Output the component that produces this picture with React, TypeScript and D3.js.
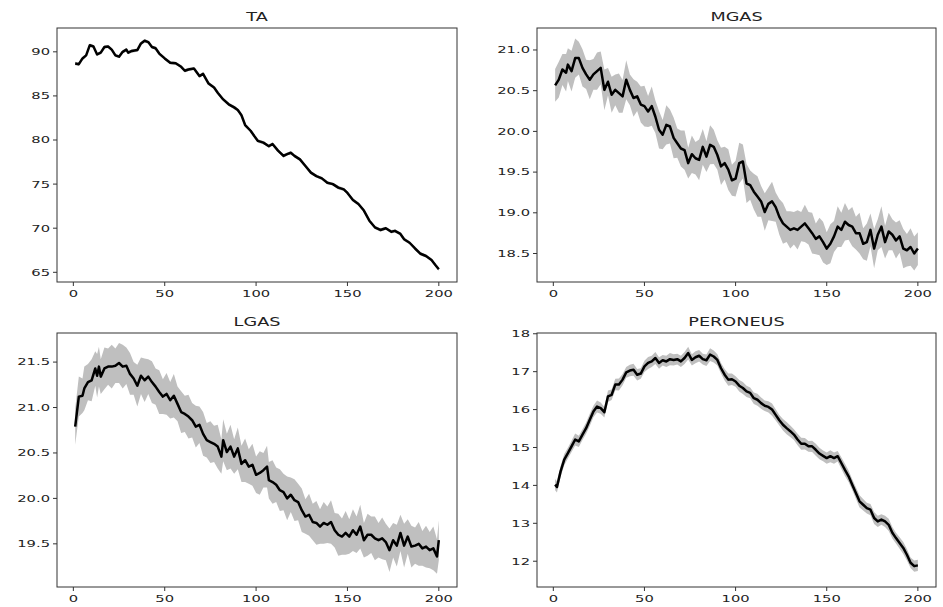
import React from "react";
import * as d3 from "d3";

// Each row: [sample, mean, half-width of the shaded band]
const TA: [number, number, number][] = [
  [1, 88.68, 0.2], [3, 88.6, 0.18], [5, 89.25, 0.2], [7, 89.6, 0.17], [9, 90.75, 0.2],
  [11, 90.6, 0.18], [13, 89.7, 0.16], [15, 89.9, 0.19], [17, 90.55, 0.2], [19, 90.6, 0.17],
  [21, 90.25, 0.18], [23, 89.6, 0.2], [25, 89.45, 0.16], [27, 90.0, 0.18], [29, 90.25, 0.19],
  [30, 89.9, 0.17], [32, 90.1, 0.2], [35, 90.2, 0.18], [37, 90.95, 0.2], [39, 91.25, 0.19],
  [41, 91.1, 0.18], [43, 90.55, 0.17], [45, 90.4, 0.2], [47, 89.8, 0.18], [50, 89.25, 0.16],
  [53, 88.75, 0.19], [56, 88.7, 0.18], [59, 88.3, 0.17], [61, 87.85, 0.2], [63, 88.0, 0.18],
  [66, 88.1, 0.16], [69, 87.25, 0.19], [71, 87.5, 0.18], [74, 86.4, 0.2], [77, 85.95, 0.17],
  [79, 85.35, 0.18], [82, 84.6, 0.19], [85, 84.05, 0.17], [88, 83.7, 0.2], [90, 83.4, 0.18],
  [92, 82.8, 0.16], [94, 81.7, 0.19], [97, 81.05, 0.18], [99, 80.45, 0.17], [101, 79.9, 0.2],
  [104, 79.7, 0.18], [107, 79.3, 0.16], [109, 79.55, 0.19], [112, 78.8, 0.18], [115, 78.2, 0.2],
  [117, 78.4, 0.17], [119, 78.55, 0.18], [121, 78.2, 0.19], [124, 77.8, 0.17], [127, 77.05, 0.2],
  [130, 76.3, 0.18], [133, 75.9, 0.16], [136, 75.65, 0.19], [139, 75.15, 0.18], [142, 75.0, 0.17],
  [145, 74.6, 0.2], [148, 74.4, 0.18], [150, 74.0, 0.16], [153, 73.2, 0.19], [156, 72.75, 0.18],
  [159, 72.0, 0.2], [162, 70.85, 0.17], [165, 70.1, 0.18], [168, 69.8, 0.19], [171, 70.0, 0.17],
  [174, 69.6, 0.2], [176, 69.7, 0.18], [179, 69.35, 0.16], [181, 68.75, 0.19], [184, 68.35, 0.18],
  [187, 67.7, 0.17], [190, 67.1, 0.2], [193, 66.85, 0.18], [196, 66.4, 0.16], [198, 65.85, 0.19],
  [200, 65.35, 0.2],
];

const MGAS: [number, number, number][] = [
  [1, 20.565, 0.2], [3, 20.635, 0.22], [5, 20.76, 0.19], [7, 20.72, 0.23], [8, 20.82, 0.2],
  [10, 20.74, 0.25], [12, 20.9, 0.24], [14, 20.9, 0.2], [16, 20.78, 0.23], [18, 20.7, 0.18],
  [20, 20.635, 0.24], [22, 20.7, 0.19], [24, 20.74, 0.23], [26, 20.78, 0.2], [28, 20.51, 0.25],
  [30, 20.61, 0.17], [32, 20.45, 0.22], [34, 20.51, 0.19], [36, 20.47, 0.24], [38, 20.43, 0.2],
  [40, 20.635, 0.24], [42, 20.51, 0.19], [44, 20.41, 0.23], [46, 20.43, 0.18], [48, 20.33, 0.22],
  [50, 20.31, 0.25], [52, 20.245, 0.19], [54, 20.31, 0.24], [56, 20.18, 0.2], [58, 20.02, 0.23],
  [60, 19.96, 0.18], [62, 20.08, 0.24], [64, 20.06, 0.21], [66, 19.92, 0.25], [68, 19.855, 0.18],
  [70, 19.79, 0.22], [72, 19.77, 0.24], [74, 19.61, 0.19], [76, 19.72, 0.23], [78, 19.67, 0.2],
  [80, 19.65, 0.25], [82, 19.81, 0.22], [84, 19.69, 0.19], [86, 19.835, 0.24], [88, 19.81, 0.21],
  [90, 19.71, 0.18], [92, 19.57, 0.23], [94, 19.61, 0.2], [96, 19.53, 0.25], [98, 19.4, 0.19],
  [100, 19.42, 0.22], [102, 19.61, 0.25], [104, 19.63, 0.21], [106, 19.36, 0.24], [108, 19.34, 0.18],
  [110, 19.26, 0.22], [112, 19.2, 0.25], [114, 19.14, 0.19], [116, 19.01, 0.23], [118, 19.11, 0.2],
  [120, 19.14, 0.24], [122, 19.07, 0.18], [124, 18.95, 0.22], [126, 18.87, 0.25], [128, 18.83, 0.19],
  [130, 18.79, 0.23], [132, 18.81, 0.2], [134, 18.79, 0.24], [136, 18.83, 0.18], [138, 18.87, 0.23],
  [140, 18.81, 0.2], [142, 18.75, 0.25], [144, 18.68, 0.19], [146, 18.71, 0.23], [148, 18.64, 0.25],
  [150, 18.56, 0.2], [152, 18.62, 0.24], [154, 18.71, 0.19], [156, 18.83, 0.25], [158, 18.79, 0.21],
  [160, 18.89, 0.23], [162, 18.85, 0.18], [164, 18.83, 0.24], [166, 18.75, 0.2], [168, 18.75, 0.25],
  [170, 18.62, 0.19], [172, 18.64, 0.23], [174, 18.79, 0.2], [176, 18.56, 0.24], [178, 18.73, 0.19],
  [180, 18.83, 0.25], [182, 18.64, 0.2], [184, 18.77, 0.23], [186, 18.73, 0.19], [188, 18.66, 0.22],
  [190, 18.71, 0.2], [192, 18.56, 0.24], [194, 18.54, 0.2], [196, 18.58, 0.23], [198, 18.5, 0.21],
  [200, 18.56, 0.2],
];

const LGAS: [number, number, number][] = [
  [1, 20.79, 0.2], [3, 21.12, 0.22], [5, 21.13, 0.19], [6, 21.21, 0.24], [8, 21.28, 0.2],
  [10, 21.3, 0.23], [12, 21.43, 0.19], [13, 21.35, 0.24], [14, 21.45, 0.22], [15, 21.34, 0.19],
  [17, 21.43, 0.23], [19, 21.45, 0.2], [21, 21.45, 0.24], [23, 21.46, 0.19], [25, 21.49, 0.22],
  [27, 21.45, 0.24], [29, 21.46, 0.2], [31, 21.37, 0.23], [33, 21.32, 0.18], [35, 21.24, 0.23],
  [37, 21.35, 0.2], [39, 21.3, 0.24], [41, 21.34, 0.19], [43, 21.28, 0.23], [45, 21.23, 0.2],
  [47, 21.17, 0.24], [49, 21.12, 0.19], [51, 21.15, 0.23], [53, 21.08, 0.2], [55, 21.13, 0.24],
  [57, 21.04, 0.19], [59, 20.95, 0.23], [61, 20.93, 0.2], [63, 20.9, 0.24], [65, 20.86, 0.19],
  [67, 20.79, 0.23], [69, 20.81, 0.2], [71, 20.71, 0.24], [73, 20.64, 0.19], [75, 20.62, 0.23],
  [77, 20.6, 0.2], [79, 20.57, 0.24], [81, 20.46, 0.19], [82, 20.64, 0.23], [84, 20.51, 0.2],
  [86, 20.57, 0.24], [88, 20.46, 0.19], [90, 20.55, 0.23], [92, 20.38, 0.2], [94, 20.42, 0.24],
  [96, 20.35, 0.19], [98, 20.37, 0.23], [100, 20.26, 0.2], [102, 20.28, 0.24], [104, 20.31, 0.19],
  [106, 20.35, 0.23], [107, 20.2, 0.2], [109, 20.18, 0.24], [111, 20.15, 0.19], [113, 20.09, 0.23],
  [115, 20.07, 0.2], [117, 20.0, 0.24], [119, 20.04, 0.19], [121, 19.98, 0.23], [123, 19.96, 0.2],
  [125, 19.87, 0.24], [127, 19.8, 0.19], [129, 19.82, 0.23], [131, 19.74, 0.2], [133, 19.73, 0.24],
  [135, 19.69, 0.19], [137, 19.73, 0.23], [139, 19.71, 0.2], [141, 19.74, 0.24], [143, 19.65, 0.19],
  [145, 19.6, 0.23], [147, 19.58, 0.2], [149, 19.62, 0.24], [151, 19.58, 0.19], [153, 19.65, 0.23],
  [155, 19.6, 0.2], [157, 19.69, 0.24], [159, 19.54, 0.19], [161, 19.6, 0.23], [163, 19.6, 0.2],
  [165, 19.56, 0.24], [167, 19.54, 0.19], [169, 19.56, 0.23], [171, 19.52, 0.2], [173, 19.43, 0.24],
  [175, 19.54, 0.19], [177, 19.48, 0.23], [179, 19.62, 0.2], [181, 19.48, 0.24], [183, 19.58, 0.19],
  [185, 19.47, 0.23], [187, 19.48, 0.2], [189, 19.5, 0.24], [191, 19.45, 0.19], [193, 19.47, 0.23],
  [195, 19.43, 0.2], [197, 19.45, 0.24], [199, 19.36, 0.19], [200, 19.54, 0.22],
];

const PERONEUS: [number, number, number][] = [
  [1, 14.02, 0.15], [2, 13.96, 0.15], [4, 14.37, 0.14], [6, 14.68, 0.15], [8, 14.85, 0.14],
  [10, 15.03, 0.15], [12, 15.21, 0.16], [14, 15.16, 0.15], [16, 15.34, 0.14], [18, 15.51, 0.15],
  [20, 15.73, 0.16], [22, 15.95, 0.15], [24, 16.08, 0.16], [26, 16.04, 0.15], [28, 15.93, 0.14],
  [30, 16.35, 0.15], [32, 16.39, 0.14], [34, 16.66, 0.15], [36, 16.66, 0.16], [38, 16.79, 0.15],
  [40, 16.98, 0.14], [42, 17.03, 0.15], [44, 17.05, 0.16], [46, 16.92, 0.15], [48, 16.95, 0.14],
  [50, 17.14, 0.15], [52, 17.23, 0.16], [54, 17.27, 0.15], [56, 17.36, 0.16], [58, 17.23, 0.15],
  [60, 17.3, 0.14], [62, 17.27, 0.15], [64, 17.33, 0.16], [66, 17.31, 0.15], [68, 17.33, 0.14],
  [70, 17.27, 0.15], [72, 17.36, 0.16], [74, 17.49, 0.17], [76, 17.31, 0.15], [78, 17.38, 0.16],
  [80, 17.42, 0.15], [82, 17.33, 0.14], [84, 17.3, 0.15], [86, 17.45, 0.17], [88, 17.4, 0.16],
  [90, 17.31, 0.15], [92, 17.09, 0.14], [94, 16.92, 0.15], [96, 16.79, 0.16], [98, 16.8, 0.15],
  [100, 16.74, 0.14], [102, 16.63, 0.15], [104, 16.57, 0.16], [106, 16.48, 0.15], [108, 16.44, 0.14],
  [110, 16.3, 0.15], [112, 16.26, 0.16], [114, 16.17, 0.15], [116, 16.1, 0.14], [118, 16.07, 0.15],
  [120, 16.0, 0.16], [122, 15.86, 0.15], [124, 15.72, 0.14], [126, 15.6, 0.15], [128, 15.51, 0.16],
  [130, 15.43, 0.15], [132, 15.34, 0.14], [134, 15.21, 0.15], [136, 15.1, 0.16], [138, 15.1, 0.15],
  [140, 15.03, 0.14], [142, 15.03, 0.15], [144, 14.94, 0.16], [146, 14.84, 0.15], [148, 14.78, 0.14],
  [150, 14.72, 0.15], [152, 14.77, 0.16], [154, 14.72, 0.15], [156, 14.77, 0.14], [158, 14.59, 0.15],
  [160, 14.41, 0.16], [162, 14.24, 0.15], [164, 14.02, 0.14], [166, 13.8, 0.15], [168, 13.58, 0.16],
  [170, 13.49, 0.15], [172, 13.4, 0.14], [174, 13.36, 0.15], [176, 13.14, 0.16], [178, 13.05, 0.15],
  [180, 13.1, 0.14], [182, 13.05, 0.15], [184, 12.96, 0.16], [186, 12.75, 0.15], [188, 12.61, 0.14],
  [190, 12.48, 0.15], [192, 12.35, 0.16], [194, 12.17, 0.15], [196, 11.96, 0.14], [198, 11.87, 0.15],
  [200, 11.89, 0.15],
];

const TITLES = ["TA", "MGAS", "LGAS", "PERONEUS"];
const X_TICKS = [0, 50, 100, 150, 200];
const X_LIMITS: [number, number] = [-8.95, 209.95];
const Y_LIMITS: [number, number][] = [
  [63.9, 92.7],
  [18.15, 21.27],
  [19.025, 21.82],
  [11.32, 18.02],
];
const Y_TICKS = [
  [65, 70, 75, 80, 85, 90],
  [18.5, 19.0, 19.5, 20.0, 20.5, 21.0],
  [19.5, 20.0, 20.5, 21.0, 21.5],
  [12, 13, 14, 15, 16, 17, 18],
];
const Y_FORMATS = [d3.format("d"), d3.format(".1f"), d3.format(".1f"), d3.format("d")];
const SERIES = [TA, MGAS, LGAS, PERONEUS];

const W = 943;
const H = 607;
const BOXES = [
  { x: 57, y: 28, w: 400, h: 254 },
  { x: 537, y: 28, w: 399, h: 254 },
  { x: 57, y: 333, w: 400, h: 254 },
  { x: 537, y: 333, w: 399, h: 254 },
];

const FONT = "DejaVu Sans, sans-serif";
const STRETCH = 1.55;
const TEXT_COLOR = "#222";

function Panel({ idx }: { idx: number }) {
  const box = BOXES[idx];
  const data = SERIES[idx];
  const x = d3.scaleLinear().domain(X_LIMITS).range([box.x, box.x + box.w]);
  const y = d3.scaleLinear().domain(Y_LIMITS[idx]).range([box.y + box.h, box.y]);
  const area = d3
    .area<[number, number, number]>()
    .x((d) => x(d[0]))
    .y0((d) => y(d[1] - d[2]))
    .y1((d) => y(d[1] + d[2]));
  const line = d3
    .line<[number, number, number]>()
    .x((d) => x(d[0]))
    .y((d) => y(d[1]));
  const fmt = Y_FORMATS[idx];
  const clipId = `clip-${idx}`;
  return (
    <g>
      <defs>
        <clipPath id={clipId}>
          <rect x={box.x} y={box.y} width={box.w} height={box.h} />
        </clipPath>
      </defs>
      <g clipPath={`url(#${clipId})`}>
        <path d={area(data) ?? ""} fill="#bfbfbf" stroke="none" />
        <path
          d={line(data) ?? ""}
          fill="none"
          stroke="#000"
          strokeWidth={2.5}
          strokeLinejoin="round"
        />
      </g>
      <rect
        x={box.x}
        y={box.y}
        width={box.w}
        height={box.h}
        fill="none"
        stroke="#333"
        strokeWidth={1}
      />
      {X_TICKS.map((t) => (
        <g key={`x${t}`}>
          <line
            x1={x(t)}
            x2={x(t)}
            y1={box.y + box.h}
            y2={box.y + box.h + 4}
            stroke="#333"
          />
          <text
            transform={`translate(${x(t)},${box.y + box.h + 15}) scale(${STRETCH},1)`}
            textAnchor="middle"
            fontFamily={FONT}
            fontSize={9.5}
            fill={TEXT_COLOR}
          >
            {t}
          </text>
        </g>
      ))}
      {Y_TICKS[idx].map((t) => (
        <g key={`y${t}`}>
          <line x1={box.x - 4} x2={box.x} y1={y(t)} y2={y(t)} stroke="#333" />
          <text
            transform={`translate(${box.x - 7},${y(t) + 3.4}) scale(${STRETCH},1)`}
            textAnchor="end"
            fontFamily={FONT}
            fontSize={9.5}
            fill={TEXT_COLOR}
          >
            {fmt(t)}
          </text>
        </g>
      ))}
      <text
        transform={`translate(${box.x + box.w / 2},${box.y - 7}) scale(${STRETCH},1)`}
        textAnchor="middle"
        fontFamily={FONT}
        fontSize={11.4}
        fill={TEXT_COLOR}
      >
        {TITLES[idx]}
      </text>
    </g>
  );
}

export default function App() {
  return (
    <svg
      width={W}
      height={H}
      viewBox={`0 0 ${W} ${H}`}
      style={{ position: "absolute", left: 0, top: 0, background: "#fff" }}
    >
      <rect x={0} y={0} width={W} height={H} fill="#fff" />
      {SERIES.map((_, i) => (
        <Panel key={i} idx={i} />
      ))}
    </svg>
  );
}
